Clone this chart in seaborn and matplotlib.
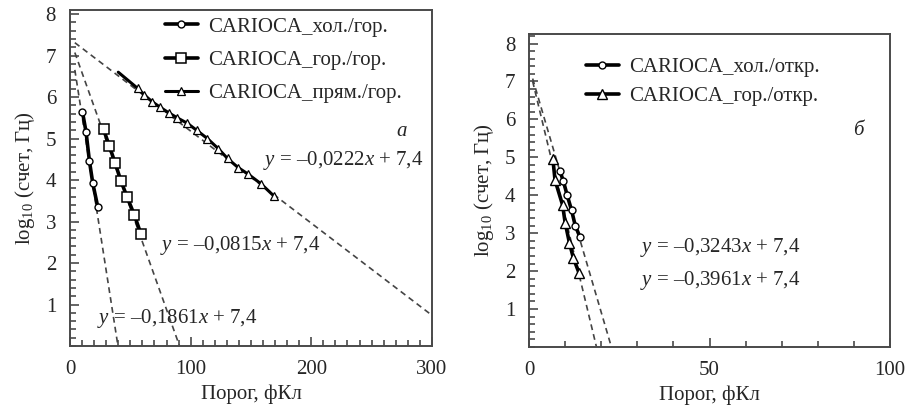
import numpy as np
import pandas as pd
import matplotlib
matplotlib.use("Agg")
import matplotlib.pyplot as plt
import seaborn as sns
from matplotlib.ticker import MultipleLocator

# ---------------- data ----------------
# panel "а"
hol_gor_x = [10.3, 13.3, 16.1, 18.9, 23.1]
hol_gor_y = [5.65, 5.16, 4.46, 3.92, 3.34]
gor_gor_x = [27.8, 32.5, 37.5, 42.2, 47.2, 53.3, 58.9]
gor_gor_y = [5.22, 4.83, 4.40, 3.98, 3.60, 3.16, 2.69]
pryam_gor_x = [40.0, 56.1, 61.7, 68.0, 75.0, 81.9, 88.9, 97.2, 105.0, 113.9,
               122.8, 130.6, 139.4, 147.8, 158.3, 169.2]
pryam_gor_y = [6.60, 6.21, 6.05, 5.89, 5.75, 5.62, 5.50, 5.37, 5.20, 5.00,
               4.76, 4.52, 4.30, 4.14, 3.91, 3.61]
slopes_a = [-0.1861, -0.0815, -0.0222]
intercept = 7.4
labels_a = ["CARIOCA_хол./гор.", "CARIOCA_гор./гор.", "CARIOCA_прям./гор."]
eq_a = ["$y$ = –0,1861$x$ + 7,4", "$y$ = –0,0815$x$ + 7,4", "$y$ = –0,0222$x$ + 7,4"]

# panel "б"
hol_otkr_x = [8.5, 9.5, 10.5, 11.8, 12.8, 14.1]
hol_otkr_y = [4.65, 4.38, 4.02, 3.60, 3.20, 2.90]
gor_otkr_x = [6.6, 7.2, 9.3, 10.0, 11.2, 12.3, 13.9]
gor_otkr_y = [4.96, 4.40, 3.74, 3.28, 2.74, 2.34, 1.94]
slopes_b = [-0.3243, -0.3961]
labels_b = ["CARIOCA_хол./откр.", "CARIOCA_гор./откр."]
eq_b = ["$y$ = –0,3243$x$ + 7,4", "$y$ = –0,3961$x$ + 7,4"]

xlabel = "Порог, фКл"
ylabel = "log$_{10}$ (счет, Гц)"

# ---------------- style ----------------
sns.set_style("ticks")
plt.rcParams["font.family"] = ["Liberation Serif", "DejaVu Serif"]
plt.rcParams["mathtext.fontset"] = "custom"
plt.rcParams["mathtext.rm"] = "Liberation Serif"
plt.rcParams["mathtext.it"] = "Liberation Serif:italic"
plt.rcParams["axes.unicode_minus"] = False

FS = 15
SPINE = "#4a4a4a"
DASH = "#444444"

fig = plt.figure(figsize=(9.09, 4.07), dpi=100)
axA = fig.add_axes([0.0770, 0.1499, 0.3982, 0.8256])
axB = fig.add_axes([0.5820, 0.1474, 0.3971, 0.7690])


def style_axes(ax, xmax, ymax, xmaj):
    ax.set_xlim(0, xmax)
    ax.set_ylim(0, ymax)
    ax.xaxis.set_major_locator(MultipleLocator(xmaj))
    ax.xaxis.set_minor_locator(MultipleLocator(10))
    ax.set_yticks([1, 2, 3, 4, 5, 6, 7, 8])
    ax.yaxis.set_minor_locator(MultipleLocator(0.2))
    ax.tick_params(which="both", direction="in", color=SPINE, width=1.2,
                   labelsize=FS, top=False, right=False)
    ax.tick_params(which="major", length=6.5)
    ax.tick_params(axis="x", which="major", pad=10)
    ax.tick_params(axis="y", which="major", pad=10)
    ax.tick_params(which="minor", length=4)
    for s in ax.spines.values():
        s.set_visible(True)
        s.set_color(SPINE)
        s.set_linewidth(1.4)
    ax.set_xlabel(xlabel, fontsize=FS, labelpad=4)
    ax.set_ylabel(ylabel, fontsize=FS, labelpad=6)


# ---- panel а ----
trend_start_a = 4
ends_a = [-intercept / slopes_a[0], -intercept / slopes_a[1], 300]
for s, e in zip(slopes_a, ends_a):
    xs = np.array([trend_start_a, e])
    sns.lineplot(x=xs, y=intercept + s * xs, ax=axA, color=DASH, lw=1.2,
                 linestyle=(0, (3.5, 2.5)), legend=False, sort=False)

sns.lineplot(x=hol_gor_x, y=hol_gor_y, ax=axA, color="black", lw=2.6,
             marker="o", markersize=5, markerfacecolor="white",
             markeredgecolor="black", markeredgewidth=1.0, label=labels_a[0])
sns.lineplot(x=gor_gor_x, y=gor_gor_y, ax=axA, color="black", lw=2.6,
             marker="s", markersize=7, markerfacecolor="white",
             markeredgecolor="black", markeredgewidth=1.1, label=labels_a[1])
sns.lineplot(x=pryam_gor_x, y=pryam_gor_y, ax=axA, color="black", lw=2.2,
             marker="^", markersize=5.5, markerfacecolor="white",
             markeredgecolor="black", markeredgewidth=0.9,
             markevery=list(range(1, len(pryam_gor_x))), label=labels_a[2])

style_axes(axA, 300, 8.1, 100)
axA.legend(loc="upper left", bbox_to_anchor=(0.21, 1.035), frameon=False,
           fontsize=FS, handlelength=1.6, handletextpad=0.5, labelspacing=0.66)

axA.text(22.5, 0.67, eq_a[0], fontsize=FS, va="center", ha="left")
axA.text(75, 2.43, eq_a[1], fontsize=FS, va="center", ha="left")
axA.text(160, 4.48, eq_a[2], fontsize=FS, va="center", ha="left")
axA.text(275, 5.16, "а", fontsize=FS, style="italic", va="center", ha="center")

# ---- panel б ----
trend_start_b = 1
for s in slopes_b:
    xs = np.array([trend_start_b, -intercept / s])
    sns.lineplot(x=xs, y=intercept + s * xs, ax=axB, color=DASH, lw=1.2,
                 linestyle=(0, (3.5, 2.5)), legend=False, sort=False)

sns.lineplot(x=hol_otkr_x, y=hol_otkr_y, ax=axB, color="black", lw=2.6,
             marker="o", markersize=5, markerfacecolor="white",
             markeredgecolor="black", markeredgewidth=1.0, label=labels_b[0])
sns.lineplot(x=gor_otkr_x, y=gor_otkr_y, ax=axB, color="black", lw=2.6,
             marker="^", markersize=7.5, markerfacecolor="white",
             markeredgecolor="black", markeredgewidth=1.0, label=labels_b[1])

style_axes(axB, 100, 8.25, 50)
axB.legend(loc="upper left", bbox_to_anchor=(0.105, 0.985), frameon=False,
           fontsize=FS, handlelength=1.6, handletextpad=0.5, labelspacing=0.45)

axB.text(30.7, 2.63, eq_b[0], fontsize=FS, va="center", ha="left")
axB.text(30.7, 1.76, eq_b[1], fontsize=FS, va="center", ha="left")
axB.text(91.1, 5.71, "б", fontsize=FS, style="italic", va="center", ha="center")

fig.savefig("out.png", dpi=100)
